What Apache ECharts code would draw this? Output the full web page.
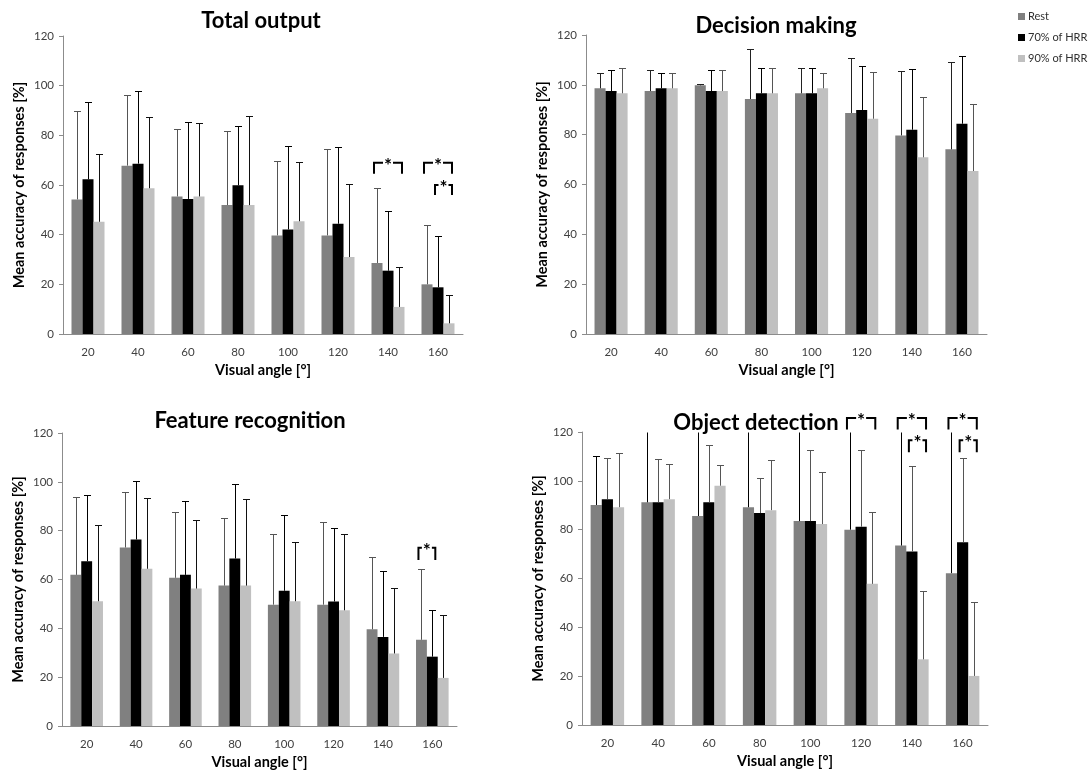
<!DOCTYPE html>
<html>
<head>
<meta charset="utf-8">
<script src="https://cdn.jsdelivr.net/npm/echarts@6/dist/echarts.min.js"></script>
<style>
  html, body { margin: 0; padding: 0; background: #ffffff; }
  #chart { width: 1089px; height: 773px; }
</style>
</head>
<body>
<div id="chart"></div>
<script>
// Visual angle categories and group names
const angles = ['20', '40', '60', '80', '100', '120', '140', '160'];
const groupNames = ['Rest', '70% of HRR', '90% of HRR'];
const yTickMax = 120;
const yTickStep = 20;

// Total output: means and standard deviations
const totalRest  = [54.2, 67.8, 55.4, 51.9, 39.7, 39.7, 28.6, 20.0];
const total70    = [62.3, 68.6, 54.4, 59.9, 42.1, 44.4, 25.5, 18.8];
const total90    = [45.2, 58.7, 55.4, 51.9, 45.4, 31.0, 10.9, 4.3];
const totalRestSD = [35.7, 28.3, 27.0, 30.0, 30.0, 34.7, 30.3, 23.8];
const total70SD   = [31.0, 29.3, 31.0, 24.0, 33.7, 30.8, 24.2, 20.8];
const total90SD   = [27.1, 28.8, 29.7, 35.9, 23.9, 29.3, 15.9, 11.5];

// Decision making
const decisionRest = [98.6, 97.5, 99.8, 94.3, 96.6, 88.7, 79.7, 74.1];
const decision70   = [97.5, 98.6, 97.5, 96.6, 96.6, 89.9, 82.0, 84.4];
const decision90   = [96.6, 98.6, 97.5, 96.6, 98.6, 86.4, 70.9, 65.4];
const decisionRestSD = [6.3, 8.5, 0.4, 19.9, 10.2, 21.9, 26.0, 35.1];
const decision70SD   = [8.5, 6.3, 8.5, 10.2, 10.2, 17.7, 24.5, 27.0];
const decision90SD   = [10.3, 6.3, 8.5, 10.2, 6.3, 18.9, 24.4, 27.0];

// Feature recognition
const featureRest = [61.9, 73.1, 60.7, 57.5, 49.7, 49.7, 39.6, 35.3];
const feature70   = [67.5, 76.4, 61.9, 68.6, 55.4, 51.0, 36.5, 28.4];
const feature90   = [51.1, 64.4, 56.3, 57.5, 51.1, 47.4, 29.7, 19.7];
const featureRestSD = [31.7, 22.6, 26.8, 27.6, 29.0, 33.7, 29.8, 28.8];
const feature70SD   = [27.3, 23.8, 30.2, 30.6, 31.0, 30.0, 26.8, 19.3];
const feature90SD   = [31.2, 28.8, 28.0, 35.3, 24.3, 31.2, 26.7, 25.8];

// Object detection
const objectRest = [90.1, 91.2, 85.6, 89.2, 83.5, 80.0, 73.5, 62.2];
const object70   = [92.5, 91.2, 91.2, 86.8, 83.5, 81.2, 71.1, 74.8];
const object90   = [89.2, 92.5, 98.0, 88.0, 82.3, 57.8, 26.9, 20.1];
const objectRestSD = [20.2, 32.0, 38.0, 35.0, 40.0, 42.0, 50.0, 60.0];
const object70SD   = [16.7, 17.7, 23.3, 14.2, 29.0, 31.3, 34.8, 34.4];
const object90SD   = [22.2, 14.4, 8.3, 20.4, 21.3, 29.3, 28.0, 30.1];

// Significance brackets: [category index, from group, to group, top value, leg value]
const totalBrackets = [[6, 0, 2, 69.0, 64.5], [7, 0, 2, 69.0, 64.5], [7, 1, 2, 60.0, 56.0]];
const decisionBrackets = [];
const featureBrackets = [[7, 0, 1, 73.0, 68.0]];
const objectBrackets = [[5, 0, 2, 125.7, 121.0], [6, 0, 2, 125.7, 121.0], [7, 0, 2, 125.7, 121.0],
                        [6, 1, 2, 116.6, 111.7], [7, 1, 2, 116.6, 111.7]];

const barColors = ['#808080', '#000000', '#c0c0c0'];
const CAT_GAP = 0.34;
const FONT = 'Lato, "Open Sans", sans-serif';

const panels = [
  { title: 'Total output', tx: 261, ty: 21,
    grid: { left: 63, top: 36, width: 400, height: 298 },
    means: [totalRest, total70, total90], sds: [totalRestSD, total70SD, total90SD],
    errColors: ['#555555', '#000000', '#111111'], brackets: totalBrackets },
  { title: 'Decision making', tx: 776, ty: 26,
    grid: { left: 586, top: 35, width: 401, height: 299 },
    means: [decisionRest, decision70, decision90], sds: [decisionRestSD, decision70SD, decision90SD],
    errColors: ['#222222', '#000000', '#555555'], brackets: decisionBrackets },
  { title: 'Feature recognition', tx: 250, ty: 421,
    grid: { left: 62, top: 433, width: 395, height: 293 },
    means: [featureRest, feature70, feature90], sds: [featureRestSD, feature70SD, feature90SD],
    errColors: ['#555555', '#000000', '#111111'], brackets: featureBrackets },
  { title: 'Object detection', tx: 756, ty: 423,
    grid: { left: 582, top: 432, width: 406, height: 293 },
    means: [objectRest, object70, object90], sds: [objectRestSD, object70SD, object90SD],
    errColors: ['#000000', '#555555', '#555555'], brackets: objectBrackets }
];

function barOffset(api, g) {
  const band = api.size([1, 0])[0];
  const bw = band * (1 - CAT_GAP) / 3;
  return { bw: bw, dx: (g - 1) * bw };
}

function errorRenderer(colors) {
  return function (params, api) {
    const cat = api.value(0), mean = api.value(1), sd = api.value(2), g = api.value(3);
    const o = barOffset(api, g);
    const upper = mean + sd;
    const top = Math.min(upper, yTickMax);
    const p0 = api.coord([cat, mean]);
    const p1 = api.coord([cat, top]);
    const x = Math.round(p0[0] + o.dx) + 0.5;
    const y1 = Math.round(p1[1]) + 0.5;
    const style = { stroke: colors[g], lineWidth: 1 };
    const children = [{ type: 'line', shape: { x1: x, y1: p0[1], x2: x, y2: y1 }, style: style }];
    if (upper <= yTickMax) {
      children.push({ type: 'line', shape: { x1: x - 3.5, y1: y1, x2: x + 3.5, y2: y1 }, style: style });
    }
    return { type: 'group', children: children };
  };
}

function bracketRenderer(params, api) {
  const cat = api.value(0), g0 = api.value(1), g1 = api.value(2), yTop = api.value(3), yLeg = api.value(4);
  const c = api.coord([cat, yTop]);
  const o0 = barOffset(api, g0), o1 = barOffset(api, g1);
  const xa = c[0] + o0.dx - 3, xb = c[0] + o1.dx + 3;
  const yt = c[1];
  const yl = api.coord([cat, yLeg])[1];
  const xm = (xa + xb) / 2;
  const st = { stroke: '#000000', lineWidth: 2, fill: null };
  return {
    type: 'group',
    children: [
      { type: 'polyline', shape: { points: [[xa, yl], [xa, yt], [Math.min(xm - 5, xa + 12), yt]] }, style: st },
      { type: 'polyline', shape: { points: [[Math.max(xm + 5, xb - 12), yt], [xb, yt], [xb, yl]] }, style: st },
      { type: 'text', x: xm, y: yt + 3,
        style: { text: '*', fill: '#000000', font: 'bold 19px ' + FONT, align: 'center', verticalAlign: 'middle' } }
    ]
  };
}

const grids = [], xAxes = [], yAxes = [], series = [], graphics = [];

panels.forEach(function (p, i) {
  grids.push(Object.assign({ containLabel: false }, p.grid));
  xAxes.push({
    type: 'category', gridIndex: i, data: angles,
    axisLine: { lineStyle: { color: '#8c8c8c', width: 1 } },
    axisTick: { show: false },
    axisLabel: { color: '#404040', fontSize: 11.5, fontFamily: FONT, margin: 12 },
    name: 'Visual angle [°]', nameLocation: 'middle', nameGap: 29,
    nameTextStyle: { color: '#000000', fontSize: 14.5, fontWeight: 'bold', fontFamily: FONT }
  });
  yAxes.push({
    type: 'value', gridIndex: i, min: 0, max: yTickMax, interval: yTickStep,
    axisLine: { show: true, lineStyle: { color: '#8c8c8c', width: 1 } },
    axisTick: { show: true, length: 4, lineStyle: { color: '#8c8c8c' } },
    splitLine: { show: false },
    axisLabel: { color: '#404040', fontSize: 11.5, fontFamily: FONT, margin: 9 },
    name: 'Mean accuracy of responses [%]', nameLocation: 'middle', nameGap: 36,
    nameTextStyle: { color: '#000000', fontSize: 14.5, fontWeight: 'bold', fontFamily: FONT }
  });
  groupNames.forEach(function (name, g) {
    series.push({
      type: 'bar', name: name, xAxisIndex: i, yAxisIndex: i,
      data: p.means[g], barGap: '0%', barCategoryGap: (CAT_GAP * 100) + '%',
      itemStyle: { color: barColors[g] }, silent: true
    });
  });
  const errData = [];
  p.means.forEach(function (arr, g) {
    arr.forEach(function (m, k) { errData.push([k, m, p.sds[g][k], g]); });
  });
  series.push({
    type: 'custom', xAxisIndex: i, yAxisIndex: i, z: 5, silent: true,
    renderItem: errorRenderer(p.errColors), data: errData, clip: false
  });
  if (p.brackets.length) {
    series.push({
      type: 'custom', xAxisIndex: i, yAxisIndex: i, z: 6, silent: true,
      renderItem: bracketRenderer, data: p.brackets, clip: false
    });
  }
  graphics.push({
    type: 'text', x: p.tx, y: p.ty,
    style: { text: p.title, font: 'bold 22px ' + FONT, fill: '#000000', align: 'center', verticalAlign: 'middle' }
  });
});

const chart = echarts.init(document.getElementById('chart'), null, { renderer: 'canvas' });
chart.setOption({
  backgroundColor: '#ffffff',
  animation: false,
  textStyle: { fontFamily: FONT },
  grid: grids,
  xAxis: xAxes,
  yAxis: yAxes,
  series: series,
  graphic: graphics,
  legend: {
    data: groupNames, orient: 'vertical', left: 1013, top: 6,
    icon: 'rect', itemWidth: 7, itemHeight: 7, itemGap: 10,
    textStyle: { color: '#303030', fontSize: 11, fontFamily: FONT, padding: [0, 0, 0, -2] },
    selectedMode: false
  }
});
</script>
</body>
</html>
